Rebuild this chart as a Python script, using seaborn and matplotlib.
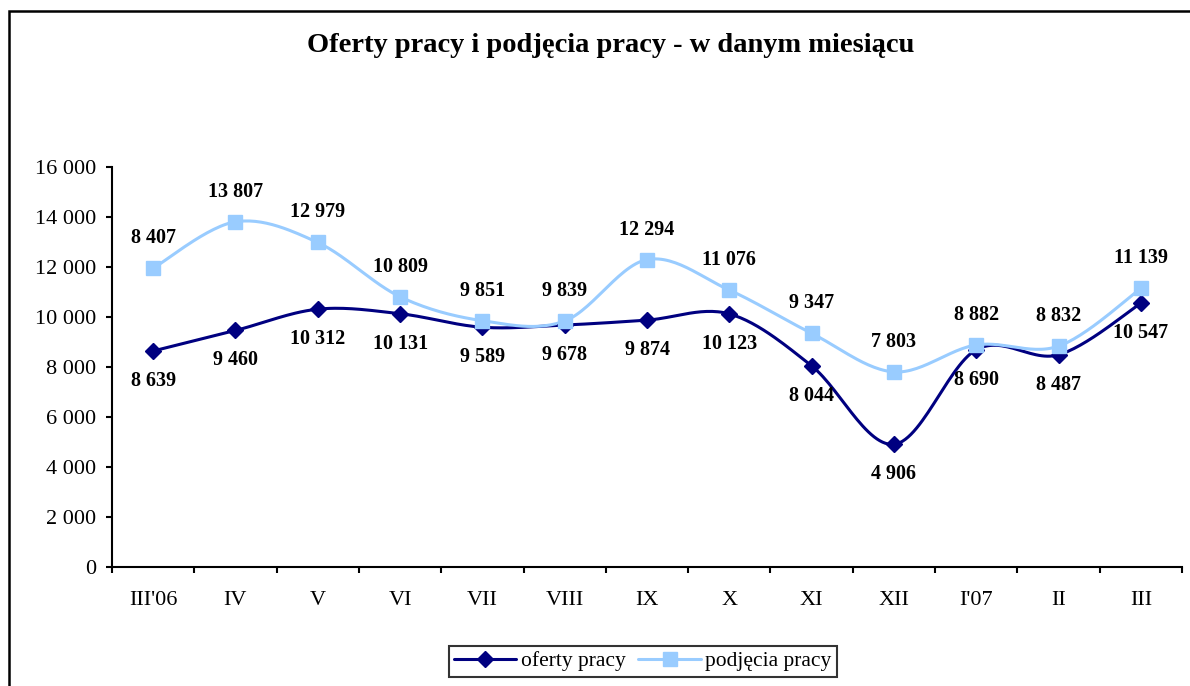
import matplotlib
matplotlib.use("Agg")
import matplotlib.pyplot as plt
import matplotlib.patches as mpatches
from matplotlib.lines import Line2D
from matplotlib.ticker import FixedLocator, FuncFormatter
import seaborn as sns
import numpy as np
import pandas as pd

# Data
months = ["III'06", "IV", "V", "VI", "VII", "VIII", "IX", "X", "XI", "XII", "I'07", "II", "III"]
oferty = [8639, 9460, 10312, 10131, 9589, 9678, 9874, 10123, 8044, 4906, 8690, 8487, 10547]
# plotted positions of "podjęcia pracy" (first point sits near 12 000 although labelled 8 407)
podjecia = [11950, 13807, 12979, 10809, 9851, 9839, 12294, 11076, 9347, 7803, 8882, 8832, 11139]
podjecia_labels = [8407, 13807, 12979, 10809, 9851, 9839, 12294, 11076, 9347, 7803, 8882, 8832, 11139]

NAVY  = "#000080"
LIGHT = "#99CCFF"

sns.set_theme(style="white")
plt.rcParams["font.family"] = ["Liberation Serif", "DejaVu Serif"]
plt.rcParams.update({"text.color": "black", "xtick.color": "black",
                     "ytick.color": "black", "axes.labelcolor": "black"})


def fmt_pl(v):
    return f"{int(v):,}".replace(",", " ")


def smooth(y, n=30):
    """Catmull-Rom curve through the points (Excel-like smoothed line)."""
    x = np.arange(len(y), dtype=float)
    y = np.asarray(y, dtype=float)
    px = np.concatenate([[x[0]], x, [x[-1]]])
    py = np.concatenate([[y[0]], y, [y[-1]]])
    xs, ys = [], []
    t = np.linspace(0, 1, n)
    for i in range(1, len(px) - 2):
        for p, out in ((px, xs), (py, ys)):
            p0, p1, p2, p3 = p[i - 1], p[i], p[i + 1], p[i + 2]
            m1 = (p2 - p0) / 2
            m2 = (p3 - p1) / 2
            h00 = 2 * t**3 - 3 * t**2 + 1
            h10 = t**3 - 2 * t**2 + t
            h01 = -2 * t**3 + 3 * t**2
            h11 = t**3 - t**2
            out.extend(h00 * p1 + h10 * m1 + h01 * p2 + h11 * m2)
    return np.array(xs), np.array(ys)


fig = plt.figure(figsize=(11.9, 6.86), dpi=100)
ax = fig.add_axes([0.0941, 0.1735, 0.8992, 0.5831])

pos = np.arange(len(months))
series = [("oferty pracy", oferty, NAVY, "D", 8.5),
          ("podjęcia pracy", podjecia, LIGHT, "s", 9.5)]
for name, vals, col, mk, ms in series:
    sx, sy = smooth(vals)
    sns.lineplot(x=sx, y=sy, ax=ax, color=col, linewidth=2.2, sort=False,
                 estimator=None)
    ax.plot(pos, vals, linestyle="none", marker=mk, markersize=ms,
            color=col, markeredgecolor=col, zorder=4)

for i in pos:
    ax.text(i, oferty[i] - 1200, fmt_pl(oferty[i]), ha="center", va="center",
            fontsize=14.5, fontweight="bold")
    ax.text(i, podjecia[i] + 1200, fmt_pl(podjecia_labels[i]), ha="center",
            va="center", fontsize=14.5, fontweight="bold")

ax.set_xlim(-0.5, len(months) - 0.5)
ax.set_ylim(0, 16000)
ax.set_yticks(np.arange(0, 16001, 2000))
ax.yaxis.set_major_formatter(FuncFormatter(lambda v, p: fmt_pl(v)))
ax.set_xticks(pos)
ax.set_xticklabels(months)
ax.xaxis.set_minor_locator(FixedLocator(np.arange(-0.5, len(months), 1)))

for s in ["top", "right"]:
    ax.spines[s].set_visible(False)
for s in ["left", "bottom"]:
    ax.spines[s].set_color("black")
    ax.spines[s].set_linewidth(1.5)

ax.tick_params(axis="y", which="major", direction="out", length=4.5, width=1.5,
               color="black", labelsize=16, pad=7, left=True)
ax.tick_params(axis="x", which="major", length=0, labelsize=16, pad=17)
ax.tick_params(axis="x", which="minor", direction="out", length=4.5, width=1.5,
               color="black", bottom=True)
ax.set_xlabel("")
ax.set_ylabel("")

fig.text(0.513, 0.934, "Oferty pracy i podjęcia pracy - w danym miesiącu",
         ha="center", va="center", fontsize=20.5, fontweight="bold")

handles = [Line2D([], [], color=col, linewidth=2.2, marker=mk, markersize=ms,
                  markeredgecolor=col, label=name)
           for name, vals, col, mk, ms in series]
leg = fig.legend(handles=handles, loc="center", bbox_to_anchor=(0.540, 0.036),
                 ncol=2, fontsize=15.5, frameon=True, fancybox=False,
                 handlelength=2.9, columnspacing=0.6, handletextpad=0.2,
                 borderpad=0.25, borderaxespad=0)
leg.get_frame().set_edgecolor("black")
leg.get_frame().set_linewidth(1.5)

# outer chart frame (right and bottom edges run past the image)
fig.patches.append(mpatches.Rectangle((0.0076, -0.1), 1.2, 1.084,
                                      transform=fig.transFigure, fill=False,
                                      edgecolor="black", linewidth=1.8))

fig.savefig("out.png", dpi=100)
